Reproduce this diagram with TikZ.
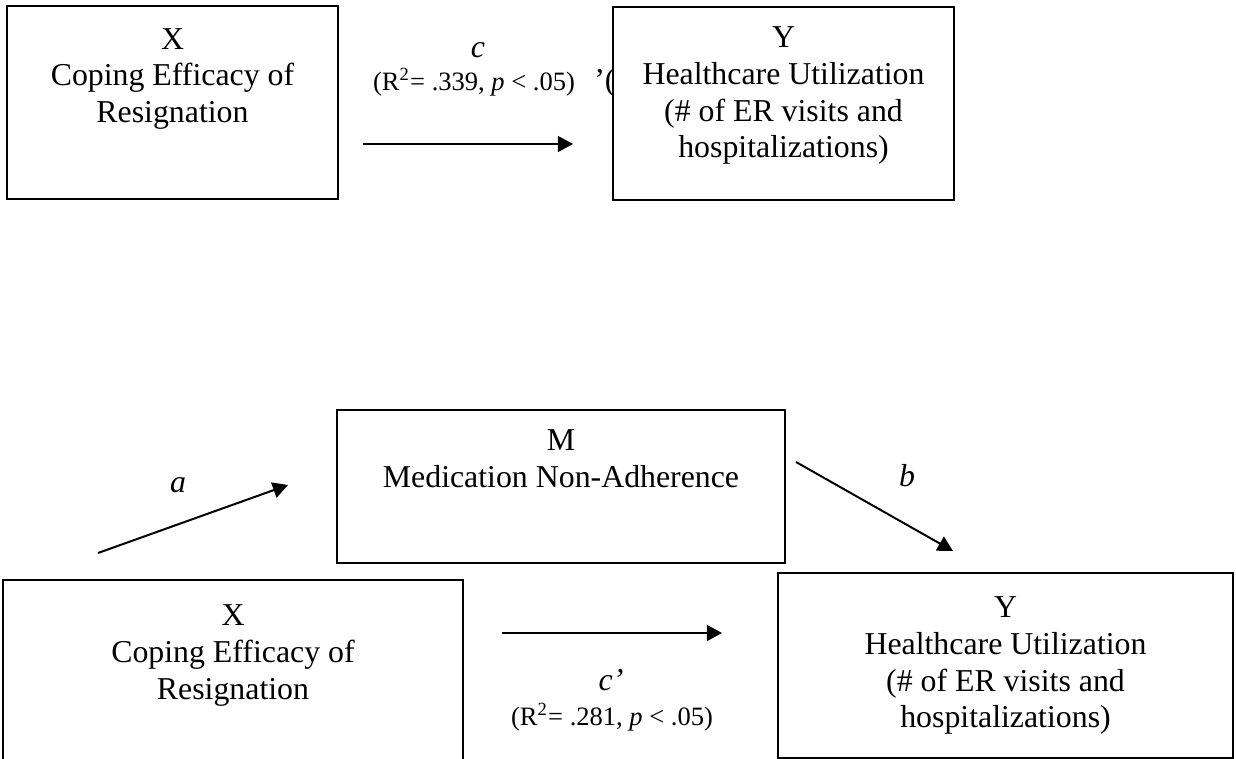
\documentclass[tikz,border=0pt]{standalone}
\usepackage{fontspec}
\setmainfont{Liberation Serif}
\usetikzlibrary{arrows.meta,fit}

\tikzset{
  varbox/.style={draw, line width=0.75pt, inner sep=0pt},
  vartext/.style={anchor=north, align=center, inner sep=0pt, font=\fontsize{12}{13.8}\selectfont},
  pathname/.style={inner sep=0pt, font=\fontsize{12}{13.8}\selectfont\itshape},
  stat/.style={inner sep=0pt, font=\fontsize{10}{12}\selectfont},
  effect/.style={line width=0.75pt, -{Triangle[length=5.7pt,width=6pt]}}
}

\begin{document}
\begin{tikzpicture}[x=0.377pt,y=-0.377pt]
  \useasboundingbox (0,0) rectangle (1236,759);
  \clip (0,0) rectangle (1236,759);
  % total effect
  \node[varbox, fit={(7,6) (338,199)}] (X1) {};
  \node[vartext] (X1txt) at (172.5,28) {X\\Coping Efficacy of\\Resignation};
  \node[varbox, fit={(613,7) (954,200)}] (Y1) {};
  \node[vartext] (Y1txt) at (783.5,26.5) {Y\\Healthcare Utilization\\(\# of ER visits and\\hospitalizations)};
  \coordinate (c0) at (363,144);
  \coordinate (c1) at (573,144);
  \draw[effect] (c0) -- (c1);
  \node[pathname] (cpath) at (478,50) {c};
  \node[stat] (cstat) at (474,82) {(R\textsuperscript{2}= .339, \textit{p} < .05)};
  \begin{scope}
    \clip (590,60) rectangle (612,105);
    \node[vartext, anchor=east] (cfrag) at (616,83) {’(};
  \end{scope}
  % mediated effect
  \node[varbox, fit={(337,410) (785,563)}] (M) {};
  \node[vartext] (Mtxt) at (561,429.5) {M\\Medication Non-Adherence};
  \node[varbox, fit={(3,580) (463,775)}] (X2) {};
  \node[vartext] (X2txt) at (233,604.5) {X\\Coping Efficacy of\\Resignation};
  \node[varbox, fit={(778,573) (1233,758)}] (Y2) {};
  \node[vartext] (Y2txt) at (1005.5,596.5) {Y\\Healthcare Utilization\\(\# of ER visits and\\hospitalizations)};
  \coordinate (a0) at (98,553);
  \coordinate (a1) at (288,485);
  \draw[effect] (a0) -- (a1);
  \node[pathname] (apath) at (178,485) {a};
  \coordinate (b0) at (796,462);
  \coordinate (b1) at (953,551);
  \draw[effect] (b0) -- (b1);
  \node[pathname] (bpath) at (907,476) {b};
  \coordinate (cp0) at (502,633);
  \coordinate (cp1) at (722,633);
  \draw[effect] (cp0) -- (cp1);
  \node[pathname] (cppath) at (611,680) {c’};
  \node[stat] (cpstat) at (612,717) {(R\textsuperscript{2}= .281, \textit{p} < .05)};
\end{tikzpicture}
\end{document}
